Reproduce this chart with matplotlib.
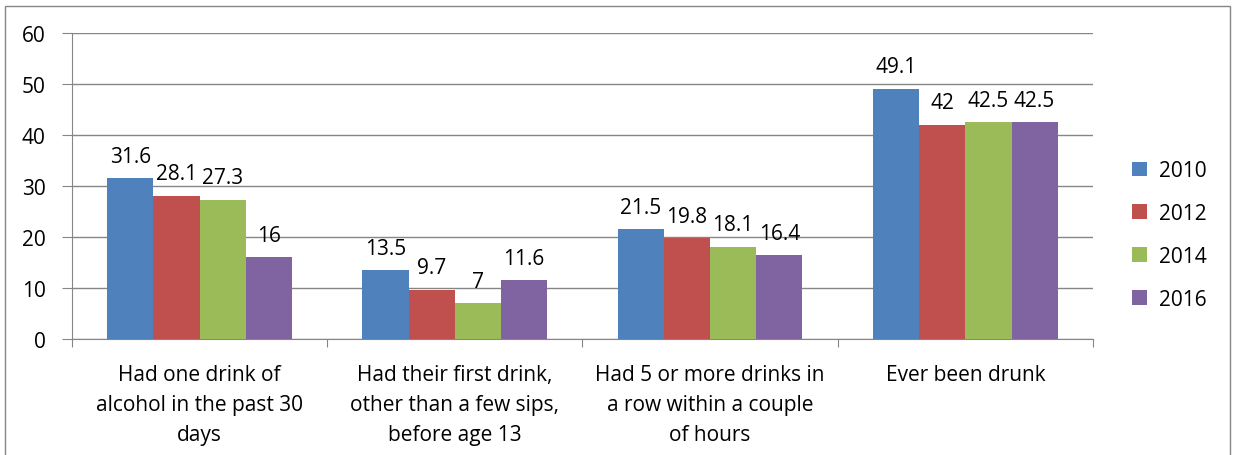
import matplotlib.pyplot as plt
import numpy as np
from matplotlib.patches import Rectangle

plt.rcParams['font.family'] = ['Open Sans', 'DejaVu Sans']

categories = ["Had one drink of\nalcohol in the past 30\ndays",
              "Had their first drink,\nother than a few sips,\nbefore age 13",
              "Had 5 or more drinks in\na row within a couple\nof hours",
              "Ever been drunk"]
years = ["2010", "2012", "2014", "2016"]
v2010 = [31.6, 13.5, 21.5, 49.1]
v2012 = [28.1, 9.7, 19.8, 42]
v2014 = [27.3, 7, 18.1, 42.5]
v2016 = [16, 11.6, 16.4, 42.5]
series = [v2010, v2012, v2014, v2016]
colors = ["#4F81BD", "#C0504D", "#9BBB59", "#8064A2"]
fs = 15

fig = plt.figure(figsize=(12.33, 4.56), dpi=100)
ax = fig.add_axes([0.0584, 0.2544, 0.828, 0.671])

# border around the chart
fig.patches.append(Rectangle((5 / 1233, -0.1), 1225 / 1233, 1.1 - 7 / 456,
                             transform=fig.transFigure, fill=False,
                             edgecolor="#868686", linewidth=1))

x = np.arange(len(categories))
w = 0.181
for i, vals in enumerate(series):
    pos = x - 1.5 * w + i * w
    ax.bar(pos, vals, w, color=colors[i], label=years[i], zorder=3)
    for p, v in zip(pos, vals):
        ax.text(p, v + 3.2, f"{v:g}", ha="center", va="baseline", fontsize=fs)

ax.set_xlim(-0.5, 3.5)
ax.set_ylim(0, 60)
ax.set_yticks(range(0, 61, 10))
ax.yaxis.grid(True, color="#868686", linewidth=1, zorder=0)
ax.set_xticks(np.arange(-0.5, 4, 1))
ax.set_xticklabels([])
ax.set_xticks(x, minor=True)
ax.set_xticklabels(categories, minor=True, fontsize=fs, linespacing=1.55)
ax.tick_params(axis="x", which="minor", length=0, pad=18)
ax.tick_params(axis="x", which="major", length=6, color="#868686")
ax.tick_params(axis="y", length=7, color="#868686", labelsize=fs, pad=12)
for s in ["top", "right"]:
    ax.spines[s].set_visible(False)
for s in ["left", "bottom"]:
    ax.spines[s].set_color("#868686")

ax.legend(loc="center left", bbox_to_anchor=(1.02, 0.34), frameon=False,
          fontsize=fs, handlelength=0.7, handleheight=0.7,
          labelspacing=1.05, handletextpad=0.6)

fig.savefig("out.png", dpi=100)
